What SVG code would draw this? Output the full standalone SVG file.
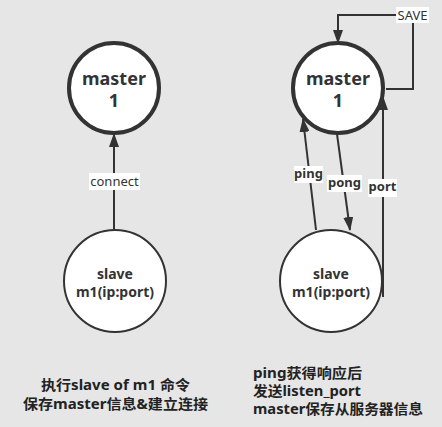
<svg xmlns="http://www.w3.org/2000/svg" width="442" height="427" viewBox="0 0 442 427">
<style>
.bg{fill:#e6e6e6}
.master{fill:#fff;stroke:#333;stroke-width:4}
.slave{fill:#fff;stroke:#333;stroke-width:2}
.nt{font-family:"Noto Sans","Noto Sans CJK SC",sans-serif;font-weight:bold;fill:#333;text-anchor:middle}
.edge{fill:none;stroke:#333;stroke-width:2}
.lbg{fill:#fff}
.lt{font-family:"Noto Sans","Noto Sans CJK SC",sans-serif;font-size:13px;fill:#333;text-anchor:middle}
.lb{font-weight:bold}
.cap{font-family:"Noto Sans","Noto Sans CJK SC",sans-serif;font-weight:bold;font-size:14px;fill:#222}
</style>
<defs>
<marker id="arr" viewBox="0 0 14 10" refX="13" refY="5" markerWidth="14" markerHeight="10" markerUnits="userSpaceOnUse" orient="auto">
<path d="M0,0 L14,5 L0,10 Z" fill="#333"/>
</marker>
</defs>
<rect class="bg" x="0" y="0" width="442" height="427"/>
<g id="connectors">
<line class="edge" x1="114" y1="229" x2="114" y2="134" marker-end="url(#arr)"/>
<path class="edge" d="M386,89 L413,89 L413,15 L338,15 L338,43" marker-end="url(#arr)"/>
<line class="edge" x1="316" y1="230" x2="303" y2="119" marker-end="url(#arr)"/>
<line class="edge" x1="337" y1="134" x2="350" y2="230" marker-end="url(#arr)"/>
<line class="edge" x1="383" y1="297" x2="383" y2="97" marker-end="url(#arr)"/>
<rect class="lbg" x="89" y="173" width="51" height="17"/>
<text class="lt" x="114.5" y="186">connect</text>
<rect class="lbg" x="396" y="7" width="33" height="16"/>
<text class="lt" x="412.5" y="20">SAVE</text>
<rect class="lbg" x="294" y="166" width="29" height="17"/>
<text class="lt lb" x="308.5" y="178">ping</text>
<rect class="lbg" x="327" y="175" width="35" height="17"/>
<text class="lt lb" x="344.5" y="187">pong</text>
<rect class="lbg" x="368" y="179" width="29" height="18"/>
<text class="lt lb" x="382.5" y="191">port</text>
</g>
<g id="master-left">
<circle class="master" cx="114" cy="88" r="45"/>
<text class="nt" x="114" y="85" font-size="18">master</text>
<text class="nt" x="114" y="107" font-size="18">1</text>
</g>
<g id="slave-left">
<circle class="slave" cx="115" cy="281" r="51"/>
<text class="nt" x="115" y="279" font-size="14">slave</text>
<text class="nt" x="115" y="297" font-size="14">m1(ip:port)</text>
</g>
<g id="master-right">
<circle class="master" cx="338" cy="88" r="45"/>
<text class="nt" x="338" y="85" font-size="18">master</text>
<text class="nt" x="338" y="107" font-size="18">1</text>
</g>
<g id="slave-right">
<circle class="slave" cx="331" cy="281" r="51"/>
<text class="nt" x="331" y="279" font-size="14">slave</text>
<text class="nt" x="331" y="297" font-size="14">m1(ip:port)</text>
</g>
<g id="caption-left">
<text class="cap" x="115.5" y="390" text-anchor="middle" textLength="149" lengthAdjust="spacingAndGlyphs">执行slave of m1 命令</text>
<text class="cap" x="115.5" y="409" text-anchor="middle" textLength="185" lengthAdjust="spacingAndGlyphs">保存master信息&amp;建立连接</text>
</g>
<g id="caption-right">
<text class="cap" x="253" y="378" textLength="109" lengthAdjust="spacingAndGlyphs">ping获得响应后</text>
<text class="cap" x="253" y="396" textLength="108" lengthAdjust="spacingAndGlyphs">发送listen_port</text>
<text class="cap" x="253" y="414" textLength="170" lengthAdjust="spacingAndGlyphs">master保存从服务器信息</text>
</g>
</svg>
